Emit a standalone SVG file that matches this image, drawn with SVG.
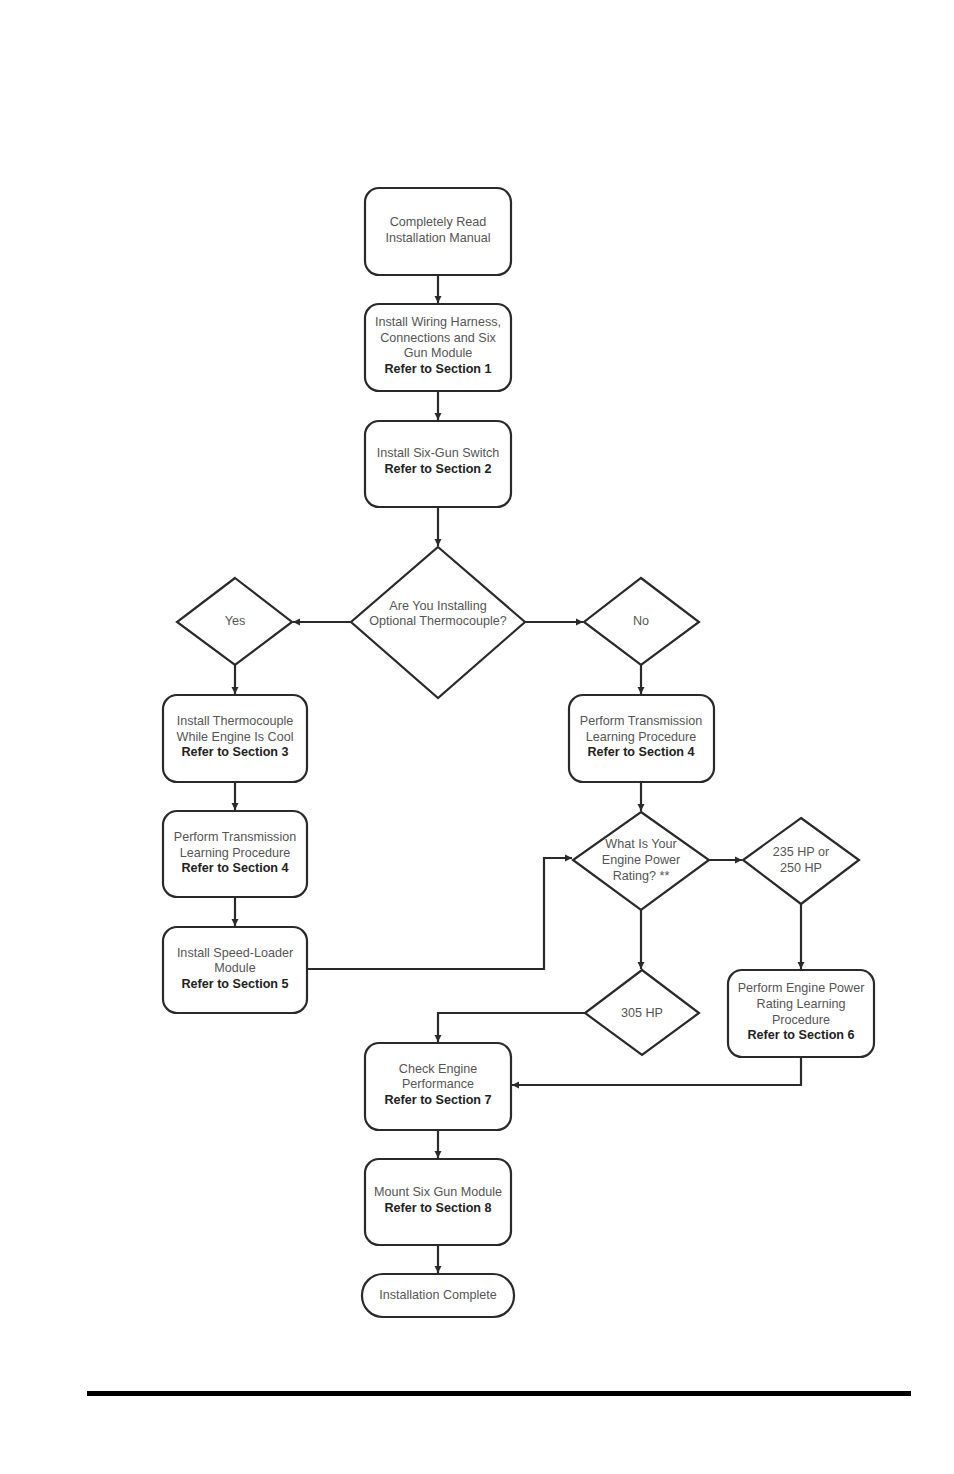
<svg xmlns="http://www.w3.org/2000/svg" width="954" height="1474" viewBox="0 0 954 1474">
<style>
.box{fill:#fff;stroke:#2a2a2a;stroke-width:2.2}
.t{font-family:"Liberation Sans",Arial,sans-serif;font-size:12.6px;fill:#555;text-anchor:middle}
.b{font-weight:bold;fill:#222}
.c{fill:none;stroke:#2a2a2a;stroke-width:2.2}
</style>
<defs>
<marker id="ah" markerWidth="8" markerHeight="8" refX="7" refY="4" orient="auto" markerUnits="userSpaceOnUse">
<path d="M0,0.5 L7,4 L0,7.5 Z" fill="#2a2a2a"/>
</marker>
</defs>
<rect width="954" height="1474" fill="#fff"/>
<g id="connectors">
<line class="c" x1="438" y1="275" x2="438" y2="303" marker-end="url(#ah)"/>
<line class="c" x1="438" y1="391" x2="438" y2="420" marker-end="url(#ah)"/>
<line class="c" x1="438" y1="507" x2="438" y2="546" marker-end="url(#ah)"/>
<line class="c" x1="351" y1="622" x2="293" y2="622" marker-end="url(#ah)"/>
<line class="c" x1="525" y1="622" x2="583" y2="622" marker-end="url(#ah)"/>
<line class="c" x1="235" y1="665" x2="235" y2="694" marker-end="url(#ah)"/>
<line class="c" x1="641" y1="665" x2="641" y2="694" marker-end="url(#ah)"/>
<line class="c" x1="235" y1="782" x2="235" y2="810" marker-end="url(#ah)"/>
<line class="c" x1="235" y1="897" x2="235" y2="926" marker-end="url(#ah)"/>
<polyline class="c" points="307,969 544,969 544,858 572,858" marker-end="url(#ah)"/>
<line class="c" x1="641" y1="782" x2="641" y2="811" marker-end="url(#ah)"/>
<line class="c" x1="709" y1="860" x2="742" y2="860" marker-end="url(#ah)"/>
<line class="c" x1="801" y1="904" x2="801" y2="969" marker-end="url(#ah)"/>
<line class="c" x1="641" y1="910" x2="641" y2="969" marker-end="url(#ah)"/>
<polyline class="c" points="585,1013 438,1013 438,1042" marker-end="url(#ah)"/>
<polyline class="c" points="801,1057 801,1085 512,1085" marker-end="url(#ah)"/>
<line class="c" x1="438" y1="1130" x2="438" y2="1158" marker-end="url(#ah)"/>
<line class="c" x1="438" y1="1245" x2="438" y2="1273" marker-end="url(#ah)"/>
</g>
<g id="n1"><rect class="box" x="365" y="188" width="146" height="87" rx="14"/>
<text class="t" x="438" y="226">Completely Read</text><text class="t" x="438" y="242">Installation Manual</text></g>
<g id="n2"><rect class="box" x="365" y="304" width="146" height="87" rx="14"/>
<text class="t" x="438" y="326">Install Wiring Harness,</text><text class="t" x="438" y="342">Connections and Six</text><text class="t" x="438" y="357">Gun Module</text><text class="t b" x="438" y="373">Refer to Section 1</text></g>
<g id="n3"><rect class="box" x="365" y="421" width="146" height="86" rx="14"/>
<text class="t" x="438" y="457">Install Six-Gun Switch</text><text class="t b" x="438" y="473">Refer to Section 2</text></g>
<g id="d1"><polygon class="box" points="438,547 525,622 438,698 351,622"/>
<text class="t" x="438" y="610">Are You Installing</text><text class="t" x="438" y="625">Optional  Thermocouple?</text></g>
<g id="dyes"><polygon class="box" points="235,578 292,622 235,665 177,622"/>
<text class="t" x="235" y="625">Yes</text></g>
<g id="dno"><polygon class="box" points="641,578 699,622 641,665 584,622"/>
<text class="t" x="641" y="625">No</text></g>
<g id="n4"><rect class="box" x="163" y="695" width="144" height="87" rx="14"/>
<text class="t" x="235" y="725">Install Thermocouple</text><text class="t" x="235" y="741">While Engine Is Cool</text><text class="t b" x="235" y="756">Refer to Section 3</text></g>
<g id="n5"><rect class="box" x="163" y="811" width="144" height="86" rx="14"/>
<text class="t" x="235" y="841">Perform Transmission</text><text class="t" x="235" y="857">Learning Procedure</text><text class="t b" x="235" y="872">Refer to Section 4</text></g>
<g id="n6"><rect class="box" x="163" y="927" width="144" height="86" rx="14"/>
<text class="t" x="235" y="957">Install Speed-Loader</text><text class="t" x="235" y="972">Module</text><text class="t b" x="235" y="988">Refer to Section 5</text></g>
<g id="n7"><rect class="box" x="569" y="695" width="145" height="87" rx="14"/>
<text class="t" x="641" y="725">Perform Transmission</text><text class="t" x="641" y="741">Learning Procedure</text><text class="t b" x="641" y="756">Refer to Section 4</text></g>
<g id="d2"><polygon class="box" points="641,812 709,860 641,910 573,860"/>
<text class="t" x="641" y="848">What Is Your</text><text class="t" x="641" y="864">Engine Power</text><text class="t" x="641" y="880">Rating? **</text></g>
<g id="d3"><polygon class="box" points="801,818 859,860 801,904 743,860"/>
<text class="t" x="801" y="856">235 HP  or</text><text class="t" x="801" y="872">250 HP</text></g>
<g id="d4"><polygon class="box" points="642,970 699,1013 642,1055 585,1013"/>
<text class="t" x="642" y="1017">305 HP</text></g>
<g id="n8"><rect class="box" x="728" y="970" width="146" height="87" rx="14"/>
<text class="t" x="801" y="992">Perform Engine Power</text><text class="t" x="801" y="1008">Rating Learning</text><text class="t" x="801" y="1024">Procedure</text><text class="t b" x="801" y="1039">Refer to Section 6</text></g>
<g id="n9"><rect class="box" x="365" y="1043" width="146" height="87" rx="14"/>
<text class="t" x="438" y="1073">Check Engine</text><text class="t" x="438" y="1088">Performance</text><text class="t b" x="438" y="1104">Refer to Section 7</text></g>
<g id="n10"><rect class="box" x="365" y="1159" width="146" height="86" rx="14"/>
<text class="t" x="438" y="1196">Mount  Six Gun Module</text><text class="t b" x="438" y="1212">Refer to Section 8</text></g>
<g id="n11"><rect class="box" x="362" y="1274" width="152" height="43" rx="21"/>
<text class="t" x="438" y="1299">Installation Complete</text></g>
<rect x="87" y="1391" width="824" height="5" fill="#000"/>
</svg>
